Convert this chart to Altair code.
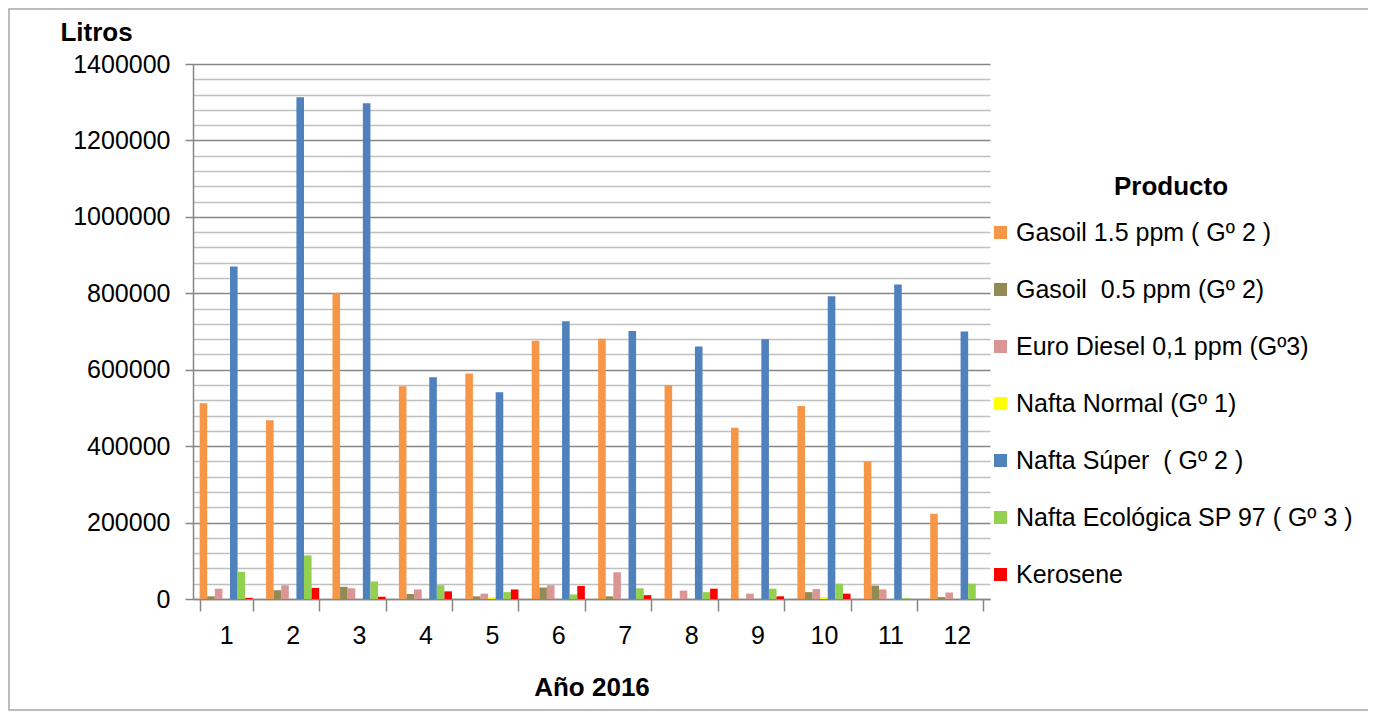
import altair as alt
import pandas as pd

months = [str(m) for m in range(1, 13)]
products = [
    "Gasoil 1.5 ppm ( Gº 2 )",
    "Gasoil\u00a0 0.5 ppm (Gº 2)",
    "Euro Diesel 0,1 ppm (Gº3)",
    "Nafta Normal (Gº 1)",
    "Nafta Súper\u00a0 ( Gº 2 )",
    "Nafta Ecológica SP 97 ( Gº 3 )",
    "Kerosene",
]
colors = ["#F79646", "#948A54", "#D99694", "#FFFF00", "#4F81BD", "#92D050", "#FF0000"]

gasoil15 = [512000, 468000, 800000, 557000, 590000, 676000, 681000, 560000, 448000, 505000, 360000, 223000]
gasoil05 = [7000, 23000, 32000, 13000, 7000, 30000, 7000, 0, 0, 18000, 35000, 5000]
euro = [27000, 36000, 28000, 25000, 14000, 36000, 70000, 22000, 14000, 26000, 25000, 17000]
normal = [0, 0, 0, 0, 5000, 0, 0, 0, 0, 5000, 0, 0]
super_ = [870000, 1313000, 1297000, 580000, 541000, 727000, 701000, 661000, 680000, 792000, 823000, 700000]
eco = [71000, 114000, 46000, 36000, 18000, 12000, 28000, 18000, 27000, 40000, 2000, 40000]
kero = [3000, 29000, 6000, 20000, 25000, 34000, 10000, 27000, 7000, 14000, 0, 0]

series = [gasoil15, gasoil05, euro, normal, super_, eco, kero]
rows = []
for p, vals in zip(products, series):
    for m, v in zip(months, vals):
        rows.append({"Mes": m, "Producto": p, "Litros": v})
df = pd.DataFrame(rows)

FONT = "Liberation Sans"
W, H = 797, 535

bars = alt.Chart(df).mark_bar().encode(
    x=alt.X("Mes:N", sort=months,
            scale=alt.Scale(paddingInner=0.2, paddingOuter=0.1),
            axis=alt.Axis(title="Año 2016", labelAngle=0, labelFontSize=25, labelFont=FONT,
                          labelColor="#000000", labelPadding=12, tickBand="extent",
                          tickSize=12, tickColor="#868686", tickWidth=1.5,
                          domainColor="#868686", domainWidth=1.5,
                          titleFontSize=26, titleFont=FONT, titleFontWeight="bold",
                          titleColor="#000000", titlePadding=26, grid=False)),
    xOffset=alt.XOffset("Producto:N", sort=products),
    y=alt.Y("Litros:Q",
            scale=alt.Scale(domain=[0, 1400000], nice=False),
            axis=alt.Axis(values=list(range(0, 1400001, 40000)), format="d",
                          labelExpr="datum.value % 200000 === 0 ? datum.label : ''",
                          labelFontSize=25, labelFont=FONT, labelColor="#000000",
                          labelPadding=15, tickSize=8, tickWidth=1.5,
                          tickColor="#868686",
                          tickOpacity={"condition": {"test": "datum.value % 200000 === 0", "value": 1}, "value": 0},
                          gridColor={"condition": {"test": "datum.value % 200000 === 0", "value": "#868686"}, "value": "#C0C0C0"},
                          gridWidth=1.5,
                          domainColor="#868686", domainWidth=1.5,
                          title="Litros", titleAngle=0, titleFontSize=26, titleFont=FONT,
                          titleFontWeight="bold", titleColor="#000000",
                          titleX=-97, titleY=-32, titleAlign="center", titleBaseline="middle")),
    color=alt.Color("Producto:N", sort=products,
                    scale=alt.Scale(domain=products, range=colors),
                    legend=alt.Legend(title="Producto", orient="none", legendX=795, legendY=110,
                                      titleFontSize=26, titleFont=FONT, titleFontWeight="bold",
                                      titleColor="#000000", titleAnchor="middle", titlePadding=20,
                                      labelFontSize=25, labelFont=FONT, labelColor="#000000",
                                      symbolType="square", symbolSize=169, symbolStrokeWidth=0,
                                      labelOffset=3, rowPadding=31, labelLimit=500)),
)

frame = alt.Chart(alt.Data(values=[{}])).mark_rect(fillOpacity=0, stroke="#A6A6A6", strokeWidth=1.5).encode(
    x=alt.value(-184), x2=alt.value(1176), y=alt.value(-55), y2=alt.value(646)
)

chart = alt.layer(bars, frame).properties(
    width=W, height=H,
    padding={"left": 185, "top": 56, "right": 378, "bottom": 113},
    autosize="none",
).configure_view(stroke=None)

chart.save("out.html", embed_options={"renderer": "svg", "actions": False})
